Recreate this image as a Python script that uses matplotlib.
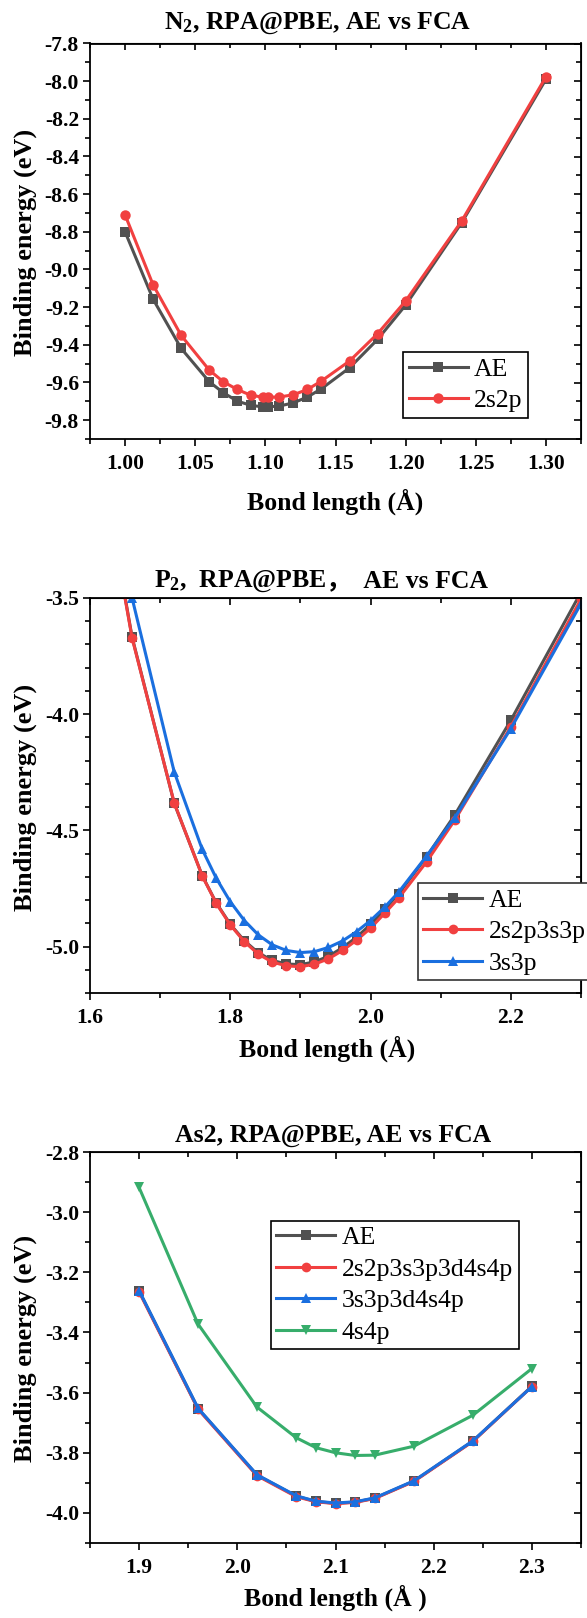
import matplotlib
matplotlib.use("Agg")
import matplotlib.pyplot as plt
from matplotlib.ticker import MultipleLocator, FormatStrFormatter

# N2 data (bond length in A, binding energy in eV)
n2_x = [1.00, 1.02, 1.04, 1.06, 1.07, 1.08, 1.09, 1.098, 1.102, 1.11, 1.12, 1.13, 1.14, 1.16, 1.18, 1.20, 1.24, 1.30]
n2_ae = [-8.800, -9.158, -9.419, -9.596, -9.654, -9.699, -9.722, -9.729, -9.729, -9.725, -9.708, -9.677, -9.633, -9.522, -9.371, -9.189, -8.751, -7.990]
n2_2s2p = [-8.710, -9.082, -9.350, -9.534, -9.596, -9.637, -9.669, -9.677, -9.678, -9.677, -9.665, -9.637, -9.592, -9.486, -9.341, -9.167, -8.742, -7.977]

# P2 data
p2_x = [1.60, 1.66, 1.72, 1.76, 1.78, 1.80, 1.82, 1.84, 1.86, 1.88, 1.90, 1.92, 1.94, 1.96, 1.98, 2.00, 2.02, 2.04, 2.08, 2.12, 2.20, 2.30]
p2_ae = [-2.64, -3.668, -4.383, -4.695, -4.812, -4.904, -4.975, -5.027, -5.060, -5.075, -5.078, -5.066, -5.042, -5.005, -4.960, -4.905, -4.840, -4.773, -4.613, -4.434, -4.026, -3.475]
p2_2s2p3s3p = [-2.65, -3.672, -4.381, -4.696, -4.814, -4.907, -4.979, -5.033, -5.067, -5.083, -5.087, -5.076, -5.053, -5.017, -4.973, -4.921, -4.857, -4.792, -4.635, -4.456, -4.054, -3.505]
p2_3s3p = [-2.40, -3.500, -4.248, -4.582, -4.706, -4.807, -4.888, -4.950, -4.993, -5.017, -5.026, -5.022, -5.004, -4.976, -4.936, -4.888, -4.831, -4.766, -4.610, -4.446, -4.062, -3.524]

# As2 data
as2_x = [1.90, 1.96, 2.02, 2.06, 2.08, 2.10, 2.12, 2.14, 2.18, 2.24, 2.30]
as2_ae = [-3.262, -3.653, -3.874, -3.944, -3.962, -3.968, -3.964, -3.951, -3.894, -3.761, -3.579]
as2_full = [-3.265, -3.655, -3.876, -3.946, -3.963, -3.969, -3.965, -3.952, -3.895, -3.762, -3.580]
as2_val = [-3.261, -3.652, -3.873, -3.943, -3.961, -3.967, -3.963, -3.950, -3.893, -3.760, -3.580]
as2_4s4p = [-2.918, -3.372, -3.648, -3.750, -3.783, -3.800, -3.809, -3.808, -3.778, -3.675, -3.520]

GRAY = '#515151'
RED = '#F14040'
BLUE = '#1A6FDF'
GREEN = '#37AD6B'

plt.rcParams['font.family'] = 'Liberation Serif'
plt.rcParams['font.weight'] = 'bold'
plt.rcParams['mathtext.fontset'] = 'custom'
plt.rcParams['mathtext.rm'] = 'Liberation Serif:bold'
plt.rcParams['mathtext.it'] = 'Liberation Serif:italic:bold'
plt.rcParams['mathtext.bf'] = 'Liberation Serif:bold'
plt.rcParams['axes.unicode_minus'] = False

W, H = 587, 1618
fig = plt.figure(figsize=(W / 100, H / 100), dpi=100)


def px_axes(left, top, right, bottom):
    return fig.add_axes([left / W, 1 - bottom / H, (right - left) / W, (bottom - top) / H])


def style(ax, xlim, ylim, xmaj, xmin, ymaj, ymin, xfmt, yfmt):
    ax.set_xlim(*xlim)
    ax.set_ylim(*ylim)
    for sp in ax.spines.values():
        sp.set_linewidth(1.3)
    ax.xaxis.set_major_locator(MultipleLocator(xmaj))
    ax.xaxis.set_minor_locator(MultipleLocator(xmin))
    ax.yaxis.set_major_locator(MultipleLocator(ymaj))
    ax.yaxis.set_minor_locator(MultipleLocator(ymin))
    ax.xaxis.set_major_formatter(FormatStrFormatter(xfmt))
    ax.yaxis.set_major_formatter(FormatStrFormatter(yfmt))
    ax.tick_params(which='both', direction='out', width=1.2, labelsize=15.5)
    ax.tick_params(which='major', length=5)
    ax.tick_params(which='minor', length=3.5)
    ax.tick_params(axis='x', pad=6)
    ax.tick_params(axis='y', pad=3)
    # inward ticks on top and right, no labels
    top = ax.secondary_xaxis('top')
    top.xaxis.set_major_locator(MultipleLocator(xmaj))
    top.xaxis.set_minor_locator(MultipleLocator(xmin))
    top.tick_params(which='both', direction='in', width=1.2, labeltop=False)
    top.tick_params(which='major', length=5)
    top.tick_params(which='minor', length=3.5)
    right = ax.secondary_yaxis('right')
    right.yaxis.set_major_locator(MultipleLocator(ymaj))
    right.yaxis.set_minor_locator(MultipleLocator(ymin))
    right.tick_params(which='both', direction='in', width=1.2, labelright=False)
    right.tick_params(which='major', length=5)
    right.tick_params(which='minor', length=3.5)


def legend(ax, x0, top, width=None, edge='black', size=18.5):
    prop = {'family': 'Liberation Serif', 'weight': 'normal', 'size': size}
    kw = dict(loc='upper left', prop=prop, numpoints=1, handlelength=2.3,
              handletextpad=0.25, borderpad=0.22, labelspacing=0.33,
              borderaxespad=0, fancybox=False, framealpha=1)
    if width is None:
        leg = ax.legend(bbox_to_anchor=(x0 / W, 1 - top / H), bbox_transform=fig.transFigure, **kw)
    else:
        leg = ax.legend(bbox_to_anchor=(x0 / W, 1 - (top + 200) / H, width / W, 200 / H),
                        bbox_transform=fig.transFigure, mode='expand', **kw)
    leg.get_frame().set_edgecolor(edge)
    leg.get_frame().set_linewidth(1.2)
    leg.set_zorder(10)
    return leg


line_kw = dict(lw=2.2, markeredgewidth=0)

# ---- N2 ----
ax1 = px_axes(90, 43.5, 581, 439)
ax1.plot(n2_x, n2_ae, color=GRAY, marker='s', ms=7, label='AE', **line_kw)
ax1.plot(n2_x, n2_2s2p, color=RED, marker='o', ms=7.5, label='2s2p', **line_kw)
style(ax1, (0.975, 1.325), (-9.9, -7.8), 0.05, 0.025, 0.2, 0.1, '%.2f', '%.1f')
legend(ax1, 403, 352)

# ---- P2 ----
ax2 = px_axes(90, 598, 581, 993)
ax2.plot(p2_x, p2_ae, color=GRAY, marker='s', ms=6.5, label='AE', **line_kw)
ax2.plot(p2_x, p2_2s2p3s3p, color=RED, marker='o', ms=7, label='2s2p3s3p', **line_kw)
ax2.plot(p2_x, p2_3s3p, color=BLUE, marker='^', ms=7, label='3s3p', **line_kw)
style(ax2, (1.6, 2.3), (-5.2, -3.5), 0.2, 0.1, 0.5, 0.1, '%.1f', '%.1f')
legend(ax2, 417.5, 883, width=220, edge='#333333', size=18.5)

# ---- As2 ----
ax3 = px_axes(90, 1152, 581, 1543)
ax3.plot(as2_x, as2_ae, color=GRAY, marker='s', ms=6.5, label='AE', **line_kw)
ax3.plot(as2_x, as2_full, color=RED, marker='o', ms=7, label='2s2p3s3p3d4s4p', **line_kw)
ax3.plot(as2_x, as2_val, color=BLUE, marker='^', ms=7, label='3s3p3d4s4p', **line_kw)
ax3.plot(as2_x, as2_4s4p, color=GREEN, marker='v', ms=7, label='4s4p', **line_kw)
style(ax3, (1.85, 2.35), (-4.1, -2.8), 0.1, 0.05, 0.2, 0.1, '%.1f', '%.1f')
legend(ax3, 270.7, 1220.5)

# ---- titles and axis labels ----
fs_title = 18.5
fs_label = 18.5
fig.text(318 / W, 1 - 28.5 / H, 'N$_2$, RPA@PBE, AE vs FCA', ha='center', va='baseline', fontsize=fs_title)
fig.text(326 / W, 1 - 587 / H, 'P$_2$,  RPA@PBE', ha='right', va='baseline', fontsize=fs_title)
fig.text(326 / W, 1 - 587 / H, '，  AE vs FCA', ha='left', va='baseline', fontsize=fs_title,
         family=['Liberation Serif', 'Noto Sans CJK SC'])
fig.text(333.5 / W, 1 - 1142 / H, 'As2, RPA@PBE, AE vs FCA', ha='center', va='baseline', fontsize=fs_title)

fig.text(335 / W, 1 - 510 / H, 'Bond length (Å)', ha='center', va='baseline', fontsize=fs_label)
fig.text(327 / W, 1 - 1057 / H, 'Bond length (Å)', ha='center', va='baseline', fontsize=fs_label)
fig.text(335 / W, 1 - 1606 / H, 'Bond length (Å )', ha='center', va='baseline', fontsize=fs_label)

for yc in (242, 797, 1348):
    fig.text(25 / W, 1 - yc / H, 'Binding energy (eV)', ha='center', va='center',
             rotation=90, fontsize=19)

fig.savefig('out.png', dpi=100)
